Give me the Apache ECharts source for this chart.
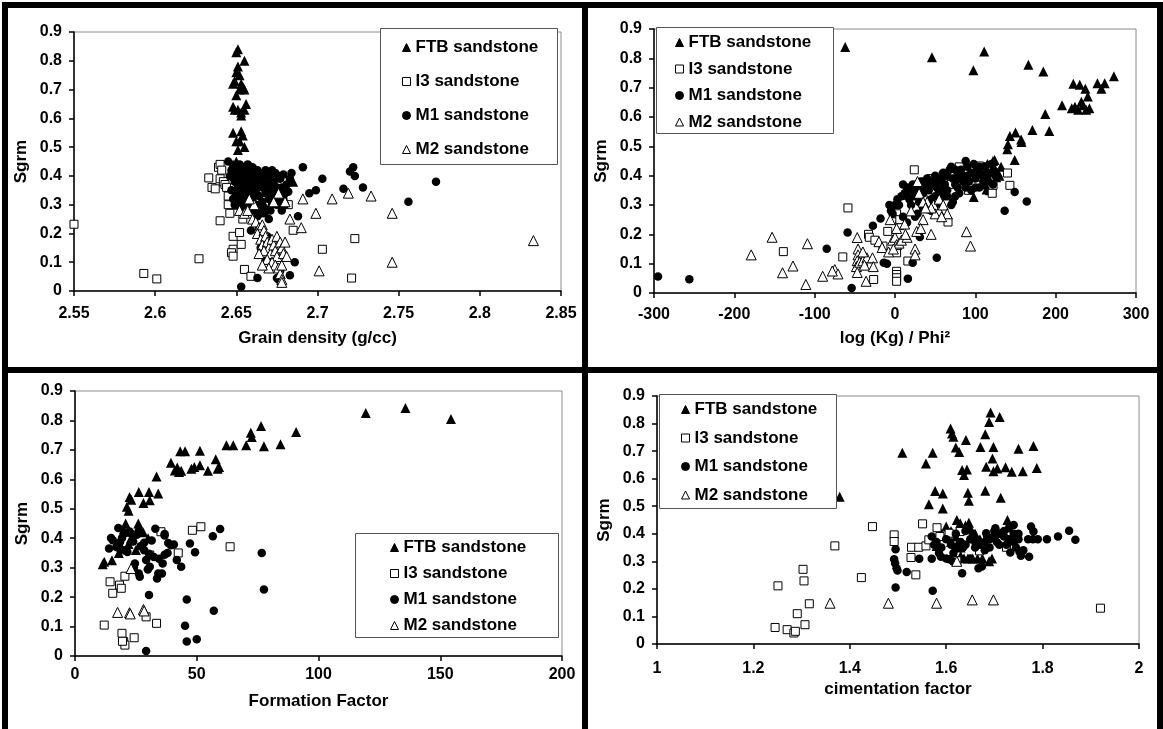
<!DOCTYPE html>
<html>
<head>
<meta charset="utf-8">
<script src="https://cdn.jsdelivr.net/npm/echarts@6/dist/echarts.min.js"></script>
<style>html,body{margin:0;padding:0;background:#fff;}#c{width:1163px;height:729px;}</style>
</head>
<body>
<div id="c"></div>
<script>
// ---------- DATA ----------
const seriesNames = ['FTB sandstone', 'I3 sandstone', 'M1 sandstone', 'M2 sandstone'];
const axisTitles = ['Grain density (g/cc)', 'log (Kg) / Phi\u00B2', 'Formation Factor', 'cimentation factor'];
const yTitle = 'Sgrm';

// Panel 1: Grain density
const p1FTB = [[2.651,0.84],[2.650,0.83],[2.655,0.80],[2.651,0.78],[2.650,0.76],[2.652,0.75],[2.649,0.73],[2.653,0.72],[2.648,0.72],[2.654,0.71],[2.655,0.70],[2.652,0.70],[2.650,0.68],[2.656,0.65],[2.648,0.64],[2.651,0.63],[2.653,0.62],[2.649,0.63],[2.655,0.63],[2.653,0.61],[2.648,0.55],[2.653,0.555],[2.654,0.54],[2.652,0.52],[2.650,0.52],[2.655,0.50],[2.651,0.49],[2.650,0.45],[2.648,0.44],[2.652,0.43],[2.654,0.42],[2.651,0.41],[2.649,0.40],[2.653,0.38],[2.656,0.37],[2.650,0.36],[2.652,0.35],[2.648,0.34],[2.655,0.33],[2.651,0.32],[2.653,0.31],[2.650,0.30],[2.685,0.38]];
const p1I3 = [[2.550,0.232],[2.593,0.061],[2.601,0.042],[2.627,0.112],[2.633,0.393],[2.635,0.36],[2.637,0.355],[2.639,0.43],[2.640,0.44],[2.641,0.42],[2.640,0.39],[2.642,0.38],[2.643,0.37],[2.644,0.36],[2.645,0.33],[2.640,0.244],[2.645,0.30],[2.646,0.27],[2.648,0.19],[2.648,0.145],[2.647,0.133],[2.648,0.121],[2.652,0.203],[2.653,0.162],[2.654,0.25],[2.655,0.075],[2.659,0.051],[2.672,0.395],[2.682,0.30],[2.685,0.211],[2.703,0.145],[2.721,0.045],[2.723,0.182]];
const p1M1 = [[2.645,0.45],[2.648,0.43],[2.650,0.41],[2.652,0.44],[2.654,0.43],[2.656,0.42],[2.646,0.40],[2.649,0.38],[2.651,0.36],[2.653,0.39],[2.655,0.37],[2.657,0.40],[2.659,0.41],[2.661,0.39],[2.663,0.40],[2.665,0.41],[2.667,0.40],[2.669,0.41],[2.671,0.40],[2.673,0.38],[2.660,0.36],[2.662,0.35],[2.664,0.37],[2.666,0.36],[2.668,0.38],[2.670,0.37],[2.672,0.35],[2.650,0.34],[2.652,0.32],[2.654,0.33],[2.656,0.31],[2.658,0.34],[2.660,0.32],[2.662,0.30],[2.664,0.33],[2.666,0.31],[2.668,0.34],[2.670,0.32],[2.672,0.30],[2.674,0.31],[2.676,0.33],[2.658,0.29],[2.661,0.28],[2.663,0.26],[2.665,0.27],[2.667,0.29],[2.669,0.28],[2.671,0.28],[2.647,0.35],[2.648,0.32],[2.655,0.35],[2.657,0.38],[2.659,0.37],[2.649,0.30],[2.653,0.29],[2.678,0.36],[2.680,0.34],[2.677,0.39],[2.679,0.405],[2.684,0.41],[2.683,0.39],[2.682,0.345],[2.676,0.35],[2.675,0.30],[2.678,0.28],[2.680,0.30],[2.674,0.41],[2.663,0.42],[2.657,0.44],[2.660,0.43],[2.647,0.42],[2.651,0.40],[2.655,0.39],[2.658,0.36],[2.661,0.34],[2.663,0.37],[2.666,0.39],[2.669,0.35],[2.671,0.33],[2.673,0.34],[2.675,0.36],[2.677,0.31],[2.679,0.32],[2.681,0.37],[2.659,0.31],[2.657,0.33],[2.665,0.30],[2.667,0.27],[2.662,0.38],[2.654,0.36],[2.656,0.35],[2.668,0.42],[2.672,0.42],[2.676,0.40],[2.691,0.43],[2.703,0.39],[2.699,0.35],[2.695,0.34],[2.716,0.355],[2.720,0.415],[2.722,0.43],[2.723,0.40],[2.728,0.36],[2.756,0.31],[2.773,0.38],[2.688,0.26],[2.686,0.10],[2.683,0.055],[2.653,0.015],[2.663,0.045],[2.659,0.21],[2.665,0.15],[2.668,0.105],[2.674,0.115],[2.675,0.045],[2.671,0.12],[2.669,0.19],[2.676,0.04],[2.664,0.22],[2.670,0.25],[2.667,0.17],[2.673,0.09],[2.677,0.07]];
const p1M2 = [[2.652,0.28],[2.655,0.27],[2.657,0.28],[2.660,0.25],[2.662,0.24],[2.664,0.22],[2.663,0.20],[2.666,0.23],[2.667,0.21],[2.665,0.18],[2.668,0.19],[2.666,0.16],[2.669,0.17],[2.670,0.15],[2.667,0.14],[2.671,0.13],[2.672,0.18],[2.673,0.16],[2.674,0.14],[2.675,0.12],[2.669,0.11],[2.672,0.10],[2.674,0.09],[2.676,0.08],[2.675,0.19],[2.677,0.17],[2.678,0.15],[2.679,0.13],[2.677,0.06],[2.678,0.04],[2.678,0.03],[2.670,0.08],[2.666,0.09],[2.664,0.13],[2.661,0.30],[2.658,0.32],[2.673,0.31],[2.676,0.34],[2.680,0.31],[2.680,0.17],[2.678,0.09],[2.681,0.12],[2.683,0.25],[2.690,0.22],[2.691,0.32],[2.699,0.27],[2.701,0.07],[2.709,0.32],[2.719,0.34],[2.733,0.33],[2.746,0.27],[2.746,0.10],[2.833,0.175]];

// Panel 2: log(Kg)/Phi^2
const p2FTB = [[-62,0.839],[46,0.804],[97.6,0.759],[111,0.823],[166,0.778],[184.6,0.755],[208,0.64],[222,0.713],[230,0.71],[237,0.696],[252,0.715],[261,0.715],[257,0.696],[272.5,0.739],[240,0.67],[232,0.652],[220,0.63],[224,0.635],[228,0.625],[234,0.64],[238,0.625],[242,0.63],[187,0.61],[171,0.556],[192,0.552],[150,0.547],[143,0.535],[140.6,0.507],[139.7,0.49],[157,0.523],[157.5,0.515],[149,0.453],[124,0.453],[98,0.327],[114,0.353],[126,0.395],[104,0.41],[108,0.40],[112,0.37],[118,0.35],[115,0.44],[120,0.43],[122,0.45],[125,0.42],[128,0.41],[130,0.40],[132,0.43],[110,0.42],[117,0.39]];
const p2I3 = [[-139,0.141],[-58.6,0.29],[-65,0.123],[-33,0.20],[-32,0.19],[-26.6,0.046],[-25,0.18],[-15,0.16],[-9,0.21],[2,0.137],[2,0.074],[2,0.063],[2,0.052],[2,0.04],[2,0.27],[6,0.23],[6,0.25],[16,0.109],[24,0.42],[66,0.242],[91.6,0.35],[105,0.433],[107.6,0.395],[122,0.367],[140,0.409],[143,0.367],[121,0.34],[114,0.43],[80,0.43],[30,0.37],[40,0.33],[50,0.38],[60,0.40],[70,0.37],[35,0.32],[55,0.35],[25,0.34],[45,0.39]];
const p2M1 = [[5,0.30],[0,0.30],[-5,0.28],[10,0.37],[12,0.34],[15,0.36],[18,0.32],[20,0.35],[22,0.37],[25,0.33],[28,0.36],[30,0.31],[32,0.38],[35,0.34],[38,0.37],[40,0.39],[42,0.35],[45,0.32],[48,0.38],[50,0.40],[52,0.36],[55,0.34],[58,0.39],[60,0.41],[62,0.37],[65,0.35],[68,0.42],[70,0.43],[72,0.39],[75,0.37],[78,0.41],[80,0.34],[82,0.42],[85,0.40],[88,0.45],[90,0.43],[92,0.38],[95,0.41],[98,0.44],[100,0.39],[102,0.42],[105,0.36],[108,0.40],[112,0.43],[115,0.38],[118,0.41],[120,0.44],[122,0.37],[125,0.40],[70,0.30],[72,0.31],[65,0.33],[55,0.30],[45,0.28],[35,0.29],[25,0.26],[20,0.30],[8,0.33],[3,0.32],[-3,0.27],[100,0.36],[110,0.38],[60,0.35],[62,0.33],[75,0.33],[78,0.36],[85,0.38],[88,0.36],[95,0.35],[15,0.33],[30,0.35],[40,0.36],[50,0.33],[55,0.38],[65,0.40],[75,0.42],[90,0.40],[105,0.43],[115,0.40],[35,0.38],[45,0.37],[80,0.39],[-295,0.056],[-256,0.047],[-85,0.151],[-59,0.206],[-54,0.017],[-27.5,0.229],[-18,0.254],[-14,0.103],[-7,0.30],[-10,0.10],[16,0.049],[22,0.103],[31,0.191],[52,0.12],[136.5,0.28],[149,0.344],[164,0.312],[10,0.26],[28,0.27],[15,0.24]];
const p2M2 = [[-179,0.13],[-153,0.19],[-140,0.069],[-127,0.092],[-111,0.029],[-109,0.168],[-90,0.057],[-75,0.08],[-71,0.065],[-78,0.075],[-47,0.189],[-46,0.15],[-46,0.13],[-47,0.11],[-48,0.09],[-47,0.07],[-44,0.105],[-40,0.11],[-35,0.12],[-36,0.04],[-40,0.14],[-38,0.095],[-28,0.12],[-27,0.09],[-20,0.175],[-16,0.155],[-8,0.14],[-6,0.25],[-3,0.18],[0,0.19],[2,0.165],[5,0.17],[8,0.18],[15,0.19],[13,0.2],[12,0.235],[25,0.15],[25,0.13],[27,0.21],[35,0.25],[32,0.22],[45,0.20],[40,0.31],[48,0.30],[55,0.28],[50,0.27],[45,0.29],[30,0.34],[28,0.38],[35,0.31],[38,0.29],[55,0.32],[60,0.30],[65,0.27],[58,0.26],[89,0.209],[94,0.16],[20,0.28],[2,0.22],[-2,0.15]];

// Panel 3: Formation Factor
const p3FTB = [[11.4,0.312],[12,0.32],[15.2,0.325],[20.8,0.45],[21.3,0.507],[22,0.493],[22.4,0.54],[23.1,0.531],[26.2,0.557],[28.1,0.52],[30.4,0.557],[30.7,0.529],[34.2,0.552],[33.5,0.61],[39.4,0.656],[41,0.63],[42,0.64],[42.7,0.625],[43.2,0.695],[45.2,0.695],[43.6,0.629],[47.8,0.636],[49,0.642],[51.3,0.697],[51.3,0.648],[54.6,0.629],[57.8,0.668],[58.6,0.636],[59.2,0.642],[62.2,0.716],[65,0.716],[70.3,0.716],[72.2,0.758],[72.6,0.744],[76.4,0.781],[77.6,0.712],[84.4,0.719],[90.8,0.761],[119.4,0.825],[135.7,0.842],[154.4,0.805],[20,0.43],[23,0.40],[26,0.45],[28,0.42],[22,0.38],[25,0.36],[19,0.37],[30,0.40],[18,0.35]];
const p3I3 = [[12,0.105],[14.4,0.252],[15.5,0.213],[18.3,0.241],[19,0.23],[20.5,0.271],[19.3,0.077],[20,0.049],[20.5,0.037],[19.5,0.05],[24.3,0.062],[29.2,0.133],[33.5,0.111],[30.7,0.343],[35.3,0.422],[42.4,0.35],[48.2,0.427],[51.7,0.439],[63.7,0.371]];
const p3M1 = [[29.2,0.017],[45.9,0.049],[50,0.057],[45.2,0.103],[45.9,0.192],[30.4,0.207],[57,0.154],[77.6,0.226],[76.7,0.35],[56.6,0.407],[59.6,0.431],[47.2,0.382],[49.3,0.352],[43.6,0.303],[41.8,0.326],[40.6,0.379],[39.4,0.376],[38.3,0.384],[36.8,0.344],[36,0.314],[35.7,0.280],[34.2,0.280],[33.7,0.263],[30.7,0.303],[29.9,0.294],[29.2,0.326],[26.6,0.269],[26.2,0.280],[24.6,0.314],[24.2,0.300],[36.8,0.414],[36.8,0.409],[33,0.432],[31.5,0.392],[28.4,0.385],[26.9,0.373],[25.4,0.412],[23.9,0.389],[22.4,0.423],[20.8,0.418],[19.3,0.401],[17.8,0.435],[14.8,0.401],[14,0.365],[15.5,0.393],[17,0.370],[18.5,0.387],[20,0.359],[21.5,0.353],[23.1,0.415],[26.2,0.426],[28.4,0.359],[30.4,0.347],[32.4,0.336],[34.5,0.330],[38,0.35]];
const p3M2 = [[17.5,0.148],[22.4,0.147],[22.7,0.143],[28.1,0.158],[28.4,0.153],[23,0.297]];

// Panel 4: cimentation factor
const p4FTB = [[1.379,0.534],[1.509,0.694],[1.558,0.655],[1.572,0.694],[1.564,0.507],[1.577,0.555],[1.593,0.546],[1.593,0.492],[1.609,0.782],[1.612,0.764],[1.615,0.752],[1.62,0.713],[1.627,0.697],[1.633,0.631],[1.637,0.613],[1.643,0.633],[1.641,0.74],[1.645,0.549],[1.647,0.52],[1.671,0.715],[1.681,0.761],[1.683,0.643],[1.681,0.556],[1.689,0.806],[1.692,0.84],[1.696,0.673],[1.698,0.715],[1.698,0.627],[1.706,0.637],[1.711,0.824],[1.713,0.531],[1.723,0.641],[1.736,0.625],[1.75,0.709],[1.759,0.627],[1.781,0.719],[1.788,0.639],[1.727,0.45],[1.622,0.45],[1.629,0.438],[1.647,0.44],[1.58,0.356],[1.59,0.40],[1.60,0.426],[1.61,0.41],[1.62,0.39],[1.625,0.37],[1.63,0.35],[1.637,0.311],[1.645,0.31],[1.655,0.31],[1.665,0.31],[1.675,0.31],[1.689,0.30],[1.695,0.31],[1.64,0.43],[1.65,0.42],[1.66,0.40],[1.67,0.38],[1.61,0.37],[1.62,0.31],[1.63,0.32]];
const p4I3 = [[1.245,0.06],[1.251,0.211],[1.27,0.052],[1.284,0.04],[1.287,0.046],[1.291,0.11],[1.303,0.271],[1.305,0.229],[1.307,0.07],[1.316,0.146],[1.369,0.356],[1.424,0.241],[1.447,0.426],[1.492,0.396],[1.492,0.372],[1.528,0.351],[1.527,0.314],[1.537,0.251],[1.543,0.351],[1.551,0.436],[1.558,0.356],[1.564,0.378],[1.581,0.422],[1.587,0.39],[1.606,0.402],[1.622,0.302],[1.629,0.408],[1.669,0.338],[1.725,0.351],[1.92,0.13]];
const p4M1 = [[1.492,0.308],[1.494,0.293],[1.497,0.275],[1.499,0.267],[1.495,0.344],[1.495,0.205],[1.518,0.261],[1.544,0.309],[1.570,0.309],[1.572,0.193],[1.589,0.317],[1.606,0.308],[1.614,0.299],[1.633,0.257],[1.667,0.275],[1.674,0.281],[1.683,0.402],[1.702,0.42],[1.706,0.402],[1.752,0.335],[1.755,0.32],[1.772,0.317],[1.776,0.426],[1.781,0.408],[1.809,0.38],[1.832,0.39],[1.855,0.411],[1.868,0.378],[1.733,0.332],[1.74,0.432],[1.58,0.37],[1.59,0.35],[1.60,0.38],[1.61,0.36],[1.62,0.35],[1.63,0.37],[1.64,0.36],[1.65,0.38],[1.66,0.37],[1.67,0.36],[1.68,0.37],[1.69,0.38],[1.70,0.39],[1.71,0.40],[1.72,0.39],[1.73,0.38],[1.74,0.37],[1.75,0.38],[1.76,0.34],[1.77,0.38],[1.78,0.38],[1.79,0.38],[1.62,0.40],[1.64,0.41],[1.66,0.35],[1.68,0.34],[1.70,0.41],[1.72,0.41],[1.74,0.40],[1.745,0.35],[1.725,0.36],[1.705,0.37],[1.685,0.39],[1.655,0.40],[1.635,0.35],[1.615,0.33],[1.60,0.31],[1.57,0.39],[1.575,0.36],[1.585,0.33],[1.65,0.31],[1.69,0.35],[1.71,0.36],[1.73,0.42],[1.75,0.40]];
const p4M2 = [[1.359,0.148],[1.48,0.148],[1.58,0.148],[1.654,0.16],[1.698,0.16],[1.622,0.30]];

const xMin = [2.55, -300, 0, 1];
const xMax = [2.85, 300, 200, 2];
const xStep = [0.05, 100, 50, 0.2];
const yMin = 0, yMax = 0.9, yStep = 0.1;

// ---------- CHART ----------
const panelData = [[p1FTB,p1I3,p1M1,p1M2],[p2FTB,p2I3,p2M1,p2M2],[p3FTB,p3I3,p3M1,p3M2],[p4FTB,p4I3,p4M1,p4M2]];
const FONT = 'Liberation Sans';
const grids = [
  {left:74, top:32, width:487, height:259},
  {left:654, top:29, width:482, height:264},
  {left:75, top:391, width:487, height:265},
  {left:657, top:396, width:482, height:248}
];
const xLabelMargin = [15, 14, 11, 17];
const xNameGap = [39, 37, 37, 37];
const legendPos = [
  {left:402, top:39, itemGap:17},
  {left:675, top:34, itemGap:9.5},
  {left:390, top:539, itemGap:9},
  {left:681, top:401, itemGap:11.5}
];
const legendBoxes = [
  {x:380, y:28, w:177, h:136},
  {x:656, y:27, w:177, h:106},
  {x:355, y:533, w:203, h:104},
  {x:659, y:394, w:177, h:114}
];
const symbols = ['triangle','rect','circle','triangle'];
const fills = ['#000','#fff','#000','#fff'];
const sizes = [10, 8, 8.5, 10];

const textBold = {fontFamily: FONT, fontWeight: 'bold', fontSize: 16, color: '#000'};

const option = {
  animation: false,
  backgroundColor: '#fff',
  grid: grids.map(g => Object.assign({show:true, borderColor:'#8c8c8c', borderWidth:1, backgroundColor:'#fff'}, g)),
  xAxis: grids.map((g,i) => ({
    type:'value', gridIndex:i, min:xMin[i], max:xMax[i], interval:xStep[i],
    name: axisTitles[i], nameLocation:'middle', nameGap:xNameGap[i],
    nameTextStyle: {fontFamily:FONT, fontWeight:'bold', fontSize:17, color:'#000'},
    axisLine:{show:true, onZero:false, lineStyle:{color:'#000', width:1.5}},
    axisTick:{show:true, inside:false, length:5, lineStyle:{color:'#000', width:1.5}},
    axisLabel: Object.assign({margin:xLabelMargin[i]}, textBold),
    splitLine:{show:false}
  })),
  yAxis: grids.map((g,i) => ({
    type:'value', gridIndex:i, min:yMin, max:yMax, interval:yStep,
    name: yTitle, nameLocation:'middle', nameGap:44, nameRotate:90,
    nameTextStyle: {fontFamily:FONT, fontWeight:'bold', fontSize:17, color:'#000'},
    axisLine:{show:true, onZero:false, lineStyle:{color:'#000', width:1.5}},
    axisTick:{show:true, inside:false, length:5, lineStyle:{color:'#000', width:1.5}},
    axisLabel: Object.assign({margin:12}, textBold),
    splitLine:{show:false}
  })),
  legend: legendPos.map((p,i) => ({
    orient:'vertical', left:p.left, top:p.top, itemGap:p.itemGap,
    itemWidth:8, itemHeight:8, padding:0, z:10,
    textStyle:{fontFamily:FONT, fontWeight:'bold', fontSize:17, color:'#000', lineHeight:17},
    data: seriesNames.map((n,k) => ({name:n, icon:symbols[k],
      itemStyle:{color:fills[k], borderColor:'#000', borderWidth:1}}))
  })),
  graphic: [
    ...legendBoxes.map(b => ({type:'rect', z:8, shape:{x:b.x+0.5, y:b.y+0.5, width:b.w, height:b.h},
      style:{fill:'#fff', stroke:'#555', lineWidth:1}})),
    {type:'rect', z:20, shape:{x:2, y:2, width:6, height:727}, style:{fill:'#000'}},
    {type:'rect', z:20, shape:{x:2, y:2, width:1161, height:6}, style:{fill:'#000'}},
    {type:'rect', z:20, shape:{x:1157, y:2, width:6, height:727}, style:{fill:'#000'}},
    {type:'rect', z:20, shape:{x:582, y:2, width:6, height:727}, style:{fill:'#000'}},
    {type:'rect', z:20, shape:{x:2, y:367, width:1161, height:6}, style:{fill:'#000'}}
  ],
  series: []
};

panelData.forEach((sets, gi) => {
  sets.forEach((data, k) => {
    option.series.push({
      type:'scatter', name:seriesNames[k], xAxisIndex:gi, yAxisIndex:gi,
      data: data, symbol: symbols[k], symbolSize: sizes[k], clip:false,
      itemStyle:{color:fills[k], borderColor:'#000', borderWidth: (k===1||k===3)?1:0, opacity:1},
      emphasis:{disabled:true}
    });
  });
});

const chart = echarts.init(document.getElementById('c'), null, {renderer:'canvas'});
chart.setOption(option);
</script>
</body>
</html>
